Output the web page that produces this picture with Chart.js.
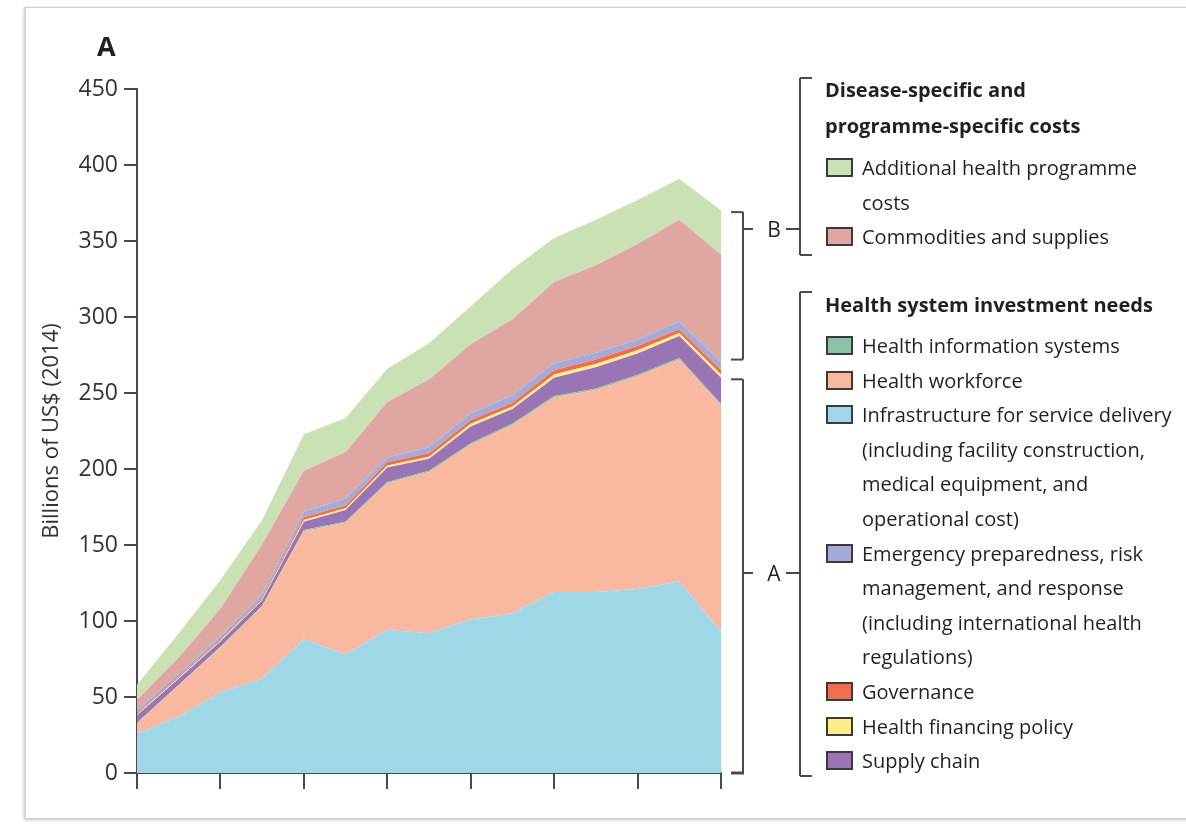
<!DOCTYPE html>
<html>
<head>
<meta charset="utf-8">
<script src="https://cdn.jsdelivr.net/npm/chart.js@4.4.0/dist/chart.umd.min.js"></script>
<style>
  html, body { margin: 0; padding: 0; background: #fff; }
  body { width: 1186px; height: 827px; position: relative; overflow: hidden; font-family: "Open Sans", sans-serif; color: #231f20; }
  .frame { position: absolute; left: 25px; top: 7px; width: 1200px; height: 810px; border: 1px solid #cfcfcf; box-shadow: -1px 1px 3px rgba(0,0,0,0.25); }
  #wrap { position: absolute; left: 0; top: 0; width: 1186px; height: 827px; }
  .panel { position: absolute; left: 97px; top: 27px; font-weight: 700; font-size: 27px; }
  #legend { position: absolute; left: 0; top: 0; font-size: 20px; }
  #legend .head { position: absolute; left: 825px; font-weight: 700; line-height: 36px; white-space: nowrap; }
  #legend .block { position: absolute; left: 825px; line-height: 34.6px; }
  #legend .item { position: relative; padding-left: 37px; white-space: nowrap; }
  #legend .sw { position: absolute; left: 1px; top: 7px; width: 23px; height: 15px; border: 2px solid #3b3b3b; }
  .tag { position: absolute; font-size: 21px; line-height: 21px; transform: translate(-50%, -50%); }
</style>
</head>
<body>
<div class="frame"></div>
<div id="wrap"><canvas id="chart"></canvas></div>
<div class="panel">A</div>
<div class="tag" style="left:774px; top:229px">B</div>
<div class="tag" style="left:774px; top:573px">A</div>
<div id="legend">
  <div class="head" style="top:72px">Disease-specific and<br>programme-specific costs</div>
  <div class="block" style="top:151px">
    <div class="item"><span class="sw" style="background:#c9e1b5"></span>Additional health programme<br>costs</div>
    <div class="item"><span class="sw" style="background:#e0a6a1"></span>Commodities and supplies</div>
  </div>
  <div class="head" style="top:287px">Health system investment needs</div>
  <div class="block" style="top:329px">
    <div class="item"><span class="sw" style="background:#8cc3a6"></span>Health information systems</div>
    <div class="item"><span class="sw" style="background:#f9b9a0"></span>Health workforce</div>
    <div class="item"><span class="sw" style="background:#9fd7e6"></span>Infrastructure for service delivery<br>(including facility construction,<br>medical equipment, and<br>operational cost)</div>
    <div class="item"><span class="sw" style="background:#a3acd9"></span>Emergency preparedness, risk<br>management, and response<br>(including international health<br>regulations)</div>
    <div class="item"><span class="sw" style="background:#f26c4f"></span>Governance</div>
    <div class="item"><span class="sw" style="background:#fdee8c"></span>Health financing policy</div>
    <div class="item"><span class="sw" style="background:#9a74b4"></span>Supply chain</div>
  </div>
</div>
<script>
// years 2016-2030, billions of US$ (2014)
const years = ["2016", "2017", "2018", "2019", "2020", "2021", "2022", "2023",
  "2024", "2025", "2026", "2027", "2028", "2029", "2030"];
const yTicks = [0, 50, 100, 150, 200, 250, 300, 350, 400, 450];

const infrastructure = [26, 37, 53, 62, 88, 78, 94, 92, 101, 105, 119, 119, 121, 126, 93];
const healthWorkforce = [6.7, 20.6, 29.5, 47.5, 71, 86.7, 96.7, 106, 115, 124, 128, 133, 140, 146, 149];
const infoSystems = [0.3, 0.4, 0.5, 0.5, 0.8, 0.8, 0.8, 0.8, 1, 1, 1, 1, 1, 1, 1];
const supplyChain = [5, 4, 3.5, 3.5, 5.5, 7.5, 9.5, 8, 11, 9.5, 12, 14, 14, 14.5, 17];
const financingPolicy = [0.6, 0.6, 0.6, 0.6, 1.1, 1.1, 1.3, 1.3, 1.7, 1.7, 2.1, 2.1, 2.1, 2, 2.1];
const governance = [0.9, 0.9, 0.9, 0.9, 1.9, 1.9, 2.2, 2.2, 2.3, 2.3, 2.9, 2.9, 2.9, 2.5, 2.9];
const emergency = [2, 2, 2, 2.5, 3.5, 4.5, 3, 4, 4.5, 5, 4.5, 4.5, 4, 5, 5];
const commodities = [6.5, 10.5, 18, 33, 27, 30.5, 36.5, 44.5, 45.5, 50, 53.5, 57.5, 63, 67, 71];
const additional = [10, 16, 19, 16, 24, 22.5, 22, 24, 25, 33, 29, 30, 29, 27, 29];

const axisColor = "#4a4a4a";

function area(label, data, color, fill) {
  return {
    label: label,
    data: data,
    backgroundColor: color,
    borderWidth: 0,
    pointRadius: 0,
    tension: 0,
    fill: fill,
  };
}

// brackets on the right of the plot (lines only, letters are html)
const brackets = {
  id: "brackets",
  afterDraw(chart) {
    const ctx = chart.ctx;
    const y = chart.scales.y;
    const bx = chart.chartArea.right + 22;
    ctx.save();
    ctx.strokeStyle = axisColor;
    ctx.lineWidth = 2;
    const line = (x1, y1, x2, y2) => {
      ctx.beginPath();
      ctx.moveTo(x1, y1);
      ctx.lineTo(x2, y2);
      ctx.stroke();
    };
    // chart side
    const bTop = y.getPixelForValue(369), bBot = y.getPixelForValue(272);
    const aTop = y.getPixelForValue(259), aBot = y.getPixelForValue(0);
    line(bx - 12, bTop, bx, bTop);
    line(bx, bTop, bx, bBot);
    line(bx - 12, bBot, bx, bBot);
    line(bx - 12, aTop, bx, aTop);
    line(bx, aTop, bx, aBot);
    ctx.lineWidth = 3;
    line(bx - 12, aBot, bx + 1, aBot);
    ctx.lineWidth = 2;
    line(bx, 229, bx + 10, 229);
    line(bx, 573, bx + 10, 573);
    // legend side
    const lx = 800;
    line(786, 229, lx, 229);
    line(786, 573, lx, 573);
    line(lx, 78, lx + 12, 78);
    line(lx, 78, lx, 255);
    line(lx, 255, lx + 12, 255);
    line(lx, 292, lx + 12, 292);
    line(lx, 292, lx, 776);
    line(lx, 776, lx + 12, 776);
    ctx.restore();
  },
};

Chart.defaults.font.family = "'Open Sans', sans-serif";
Chart.defaults.color = "#333";

new Chart(document.getElementById("chart"), {
  type: "line",
  data: {
    labels: years,
    datasets: [
      area("Infrastructure for service delivery", infrastructure, "#9fd7e6", "origin"),
      area("Health workforce", healthWorkforce, "#f9b9a0", "-1"),
      area("Health information systems", infoSystems, "#8cc3a6", "-1"),
      area("Supply chain", supplyChain, "#9a74b4", "-1"),
      area("Health financing policy", financingPolicy, "#fdee8c", "-1"),
      area("Governance", governance, "#f26c4f", "-1"),
      area("Emergency preparedness, risk management, and response", emergency, "#a3acd9", "-1"),
      area("Commodities and supplies", commodities, "#e0a6a1", "-1"),
      area("Additional health programme costs", additional, "#c9e1b5", "-1"),
    ],
  },
  options: {
    responsive: true,
    maintainAspectRatio: false,
    animation: false,
    layout: { padding: { top: 89, right: 465, bottom: 0, left: 0 } },
    plugins: {
      legend: { display: false },
      tooltip: { enabled: false },
    },
    scales: {
      x: {
        ticks: { display: false },
        grid: {
          drawOnChartArea: false,
          tickLength: 16,
          lineWidth: 2,
          tickColor: (c) => (c.index % 2 === 0 ? axisColor : "rgba(0,0,0,0)"),
        },
        border: { color: axisColor, width: 2 },
        afterFit: (s) => { s.height = 54; },
      },
      y: {
        stacked: true,
        min: 0,
        max: 450,
        afterBuildTicks: (s) => { s.ticks = yTicks.map((v) => ({ value: v })); },
        ticks: { color: "#333", padding: 6, font: { size: 23 } },
        grid: { drawOnChartArea: false, tickLength: 13, lineWidth: 2, color: axisColor },
        border: { color: axisColor, width: 2 },
        title: {
          display: true,
          text: "Billions of US$ (2014)",
          color: "#333",
          font: { size: 22 },
          padding: { top: 39, bottom: 0 },
        },
        afterFit: (s) => { s.width = 137; },
      },
    },
  },
  plugins: [brackets],
});
</script>
</body>
</html>
